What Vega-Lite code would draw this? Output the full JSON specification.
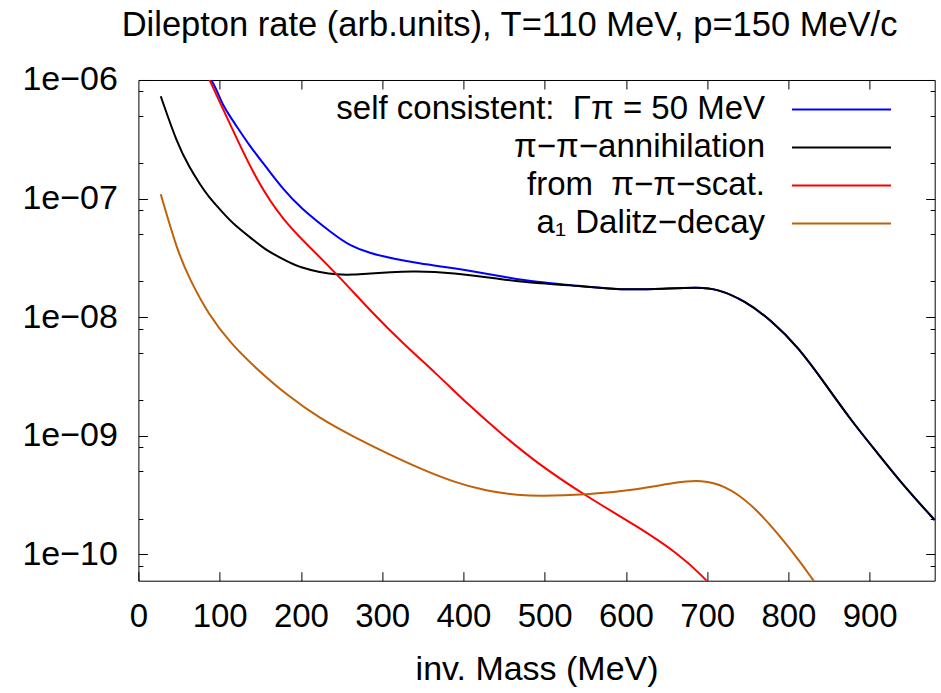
{
  "$schema": "https://vega.github.io/schema/vega-lite/v6.json",
  "width": 796.3,
  "height": 500.7,
  "autosize": {"type": "none"},
  "padding": {"left": 138.4, "top": 80, "right": 6.3, "bottom": 112},
  "background": "white",
  "config": {
    "font": "Liberation Sans",
    "view": {"stroke": "#000", "strokeWidth": 1},
    "axis": {"grid": false, "domain": false, "tickColor": "#000", "labelColor": "#000", "titleColor": "#000", "tickWidth": 1}
  },
  "title": {
    "text": "Dilepton rate (arb.units), T=110 MeV, p=150 MeV/c",
    "fontSize": 34.5,
    "fontWeight": "normal",
    "color": "#000",
    "anchor": "middle",
    "frame": "group",
    "dx": -27,
    "baseline": "alphabetic",
    "offset": -8
  },
  "data": {
    "values": [
      {"s": "self consistent:\u00a0 Γπ = 50 MeV", "m": 80, "r": 1.2e-6},
      {"s": "self consistent:\u00a0 Γπ = 50 MeV", "m": 92.2, "r": 9.8e-7},
      {"s": "self consistent:\u00a0 Γπ = 50 MeV", "m": 104, "r": 6.0e-7},
      {"s": "self consistent:\u00a0 Γπ = 50 MeV", "m": 116.8, "r": 4.5e-7},
      {"s": "self consistent:\u00a0 Γπ = 50 MeV", "m": 137, "r": 2.77e-7},
      {"s": "self consistent:\u00a0 Γπ = 50 MeV", "m": 157.9, "r": 1.82e-7},
      {"s": "self consistent:\u00a0 Γπ = 50 MeV", "m": 178, "r": 1.2e-7},
      {"s": "self consistent:\u00a0 Γπ = 50 MeV", "m": 198.9, "r": 8.4e-8},
      {"s": "self consistent:\u00a0 Γπ = 50 MeV", "m": 239.9, "r": 5.0e-8},
      {"s": "self consistent:\u00a0 Γπ = 50 MeV", "m": 260.4, "r": 4.0e-8},
      {"s": "self consistent:\u00a0 Γπ = 50 MeV", "m": 285, "r": 3.45e-8},
      {"s": "self consistent:\u00a0 Γπ = 50 MeV", "m": 315, "r": 3.1e-8},
      {"s": "self consistent:\u00a0 Γπ = 50 MeV", "m": 346, "r": 2.84e-8},
      {"s": "self consistent:\u00a0 Γπ = 50 MeV", "m": 377, "r": 2.65e-8},
      {"s": "self consistent:\u00a0 Γπ = 50 MeV", "m": 407, "r": 2.47e-8},
      {"s": "self consistent:\u00a0 Γπ = 50 MeV", "m": 448, "r": 2.2e-8},
      {"s": "self consistent:\u00a0 Γπ = 50 MeV", "m": 489, "r": 1.97e-8},
      {"s": "self consistent:\u00a0 Γπ = 50 MeV", "m": 541, "r": 1.85e-8},
      {"s": "self consistent:\u00a0 Γπ = 50 MeV", "m": 594, "r": 1.69e-8},
      {"s": "self consistent:\u00a0 Γπ = 50 MeV", "m": 648, "r": 1.74e-8},
      {"s": "self consistent:\u00a0 Γπ = 50 MeV", "m": 689, "r": 1.79e-8},
      {"s": "self consistent:\u00a0 Γπ = 50 MeV", "m": 713, "r": 1.73e-8},
      {"s": "self consistent:\u00a0 Γπ = 50 MeV", "m": 746, "r": 1.38e-8},
      {"s": "self consistent:\u00a0 Γπ = 50 MeV", "m": 779, "r": 9.4e-9},
      {"s": "self consistent:\u00a0 Γπ = 50 MeV", "m": 812, "r": 5.6e-9},
      {"s": "self consistent:\u00a0 Γπ = 50 MeV", "m": 845, "r": 2.75e-9},
      {"s": "self consistent:\u00a0 Γπ = 50 MeV", "m": 877, "r": 1.35e-9},
      {"s": "self consistent:\u00a0 Γπ = 50 MeV", "m": 910, "r": 7.1e-10},
      {"s": "self consistent:\u00a0 Γπ = 50 MeV", "m": 943, "r": 3.7e-10},
      {"s": "self consistent:\u00a0 Γπ = 50 MeV", "m": 980, "r": 1.95e-10},

      {"s": "π−π−annihilation", "m": 27.5, "r": 7.3e-7},
      {"s": "π−π−annihilation", "m": 48, "r": 2.87e-7},
      {"s": "π−π−annihilation", "m": 63, "r": 1.82e-7},
      {"s": "π−π−annihilation", "m": 75.8, "r": 1.32e-7},
      {"s": "π−π−annihilation", "m": 85.6, "r": 1.05e-7},
      {"s": "π−π−annihilation", "m": 104, "r": 7.6e-8},
      {"s": "π−π−annihilation", "m": 116.8, "r": 6.1e-8},
      {"s": "π−π−annihilation", "m": 143, "r": 4.4e-8},
      {"s": "π−π−annihilation", "m": 157.9, "r": 3.63e-8},
      {"s": "π−π−annihilation", "m": 184, "r": 2.94e-8},
      {"s": "π−π−annihilation", "m": 198.9, "r": 2.63e-8},
      {"s": "π−π−annihilation", "m": 224, "r": 2.39e-8},
      {"s": "π−π−annihilation", "m": 244, "r": 2.28e-8},
      {"s": "π−π−annihilation", "m": 265, "r": 2.28e-8},
      {"s": "π−π−annihilation", "m": 285, "r": 2.34e-8},
      {"s": "π−π−annihilation", "m": 310, "r": 2.4e-8},
      {"s": "π−π−annihilation", "m": 338, "r": 2.45e-8},
      {"s": "π−π−annihilation", "m": 387, "r": 2.37e-8},
      {"s": "π−π−annihilation", "m": 448, "r": 2.08e-8},
      {"s": "π−π−annihilation", "m": 489, "r": 1.93e-8},
      {"s": "π−π−annihilation", "m": 541, "r": 1.85e-8},
      {"s": "π−π−annihilation", "m": 594, "r": 1.69e-8},
      {"s": "π−π−annihilation", "m": 648, "r": 1.74e-8},
      {"s": "π−π−annihilation", "m": 689, "r": 1.79e-8},
      {"s": "π−π−annihilation", "m": 713, "r": 1.73e-8},
      {"s": "π−π−annihilation", "m": 746, "r": 1.38e-8},
      {"s": "π−π−annihilation", "m": 779, "r": 9.4e-9},
      {"s": "π−π−annihilation", "m": 812, "r": 5.6e-9},
      {"s": "π−π−annihilation", "m": 845, "r": 2.75e-9},
      {"s": "π−π−annihilation", "m": 877, "r": 1.35e-9},
      {"s": "π−π−annihilation", "m": 910, "r": 7.1e-10},
      {"s": "π−π−annihilation", "m": 943, "r": 3.7e-10},
      {"s": "π−π−annihilation", "m": 980, "r": 1.95e-10},

      {"s": "from\u00a0 π−π−scat.", "m": 80, "r": 1.3e-6},
      {"s": "from\u00a0 π−π−scat.", "m": 88.1, "r": 9.8e-7},
      {"s": "from\u00a0 π−π−scat.", "m": 102, "r": 6.1e-7},
      {"s": "from\u00a0 π−π−scat.", "m": 116.8, "r": 3.71e-7},
      {"s": "from\u00a0 π−π−scat.", "m": 145.6, "r": 1.41e-7},
      {"s": "from\u00a0 π−π−scat.", "m": 178.4, "r": 6.5e-8},
      {"s": "from\u00a0 π−π−scat.", "m": 211.2, "r": 3.87e-8},
      {"s": "from\u00a0 π−π−scat.", "m": 248, "r": 2.17e-8},
      {"s": "from\u00a0 π−π−scat.", "m": 285, "r": 1.14e-8},
      {"s": "from\u00a0 π−π−scat.", "m": 326, "r": 5.96e-9},
      {"s": "from\u00a0 π−π−scat.", "m": 367, "r": 3.33e-9},
      {"s": "from\u00a0 π−π−scat.", "m": 407, "r": 1.8e-9},
      {"s": "from\u00a0 π−π−scat.", "m": 448, "r": 1.02e-9},
      {"s": "from\u00a0 π−π−scat.", "m": 489, "r": 6.0e-10},
      {"s": "from\u00a0 π−π−scat.", "m": 549, "r": 3.15e-10},
      {"s": "from\u00a0 π−π−scat.", "m": 615, "r": 1.71e-10},
      {"s": "from\u00a0 π−π−scat.", "m": 664, "r": 1.02e-10},
      {"s": "from\u00a0 π−π−scat.", "m": 697, "r": 6.3e-11},
      {"s": "from\u00a0 π−π−scat.", "m": 705, "r": 5.4e-11},

      {"s": "a₁ Dalitz−decay", "m": 27.5, "r": 1.09e-7},
      {"s": "a₁ Dalitz−decay", "m": 48, "r": 3.6e-8},
      {"s": "a₁ Dalitz−decay", "m": 63, "r": 2.1e-8},
      {"s": "a₁ Dalitz−decay", "m": 85.6, "r": 1.07e-8},
      {"s": "a₁ Dalitz−decay", "m": 114, "r": 5.96e-9},
      {"s": "a₁ Dalitz−decay", "m": 143, "r": 3.8e-9},
      {"s": "a₁ Dalitz−decay", "m": 183, "r": 2.19e-9},
      {"s": "a₁ Dalitz−decay", "m": 224, "r": 1.39e-9},
      {"s": "a₁ Dalitz−decay", "m": 265, "r": 9.8e-10},
      {"s": "a₁ Dalitz−decay", "m": 306, "r": 7.1e-10},
      {"s": "a₁ Dalitz−decay", "m": 346, "r": 5.3e-10},
      {"s": "a₁ Dalitz−decay", "m": 387, "r": 4.09e-10},
      {"s": "a₁ Dalitz−decay", "m": 428, "r": 3.41e-10},
      {"s": "a₁ Dalitz−decay", "m": 469, "r": 3.16e-10},
      {"s": "a₁ Dalitz−decay", "m": 492, "r": 3.1e-10},
      {"s": "a₁ Dalitz−decay", "m": 549, "r": 3.16e-10},
      {"s": "a₁ Dalitz−decay", "m": 615, "r": 3.52e-10},
      {"s": "a₁ Dalitz−decay", "m": 664, "r": 4.09e-10},
      {"s": "a₁ Dalitz−decay", "m": 693, "r": 4.23e-10},
      {"s": "a₁ Dalitz−decay", "m": 721, "r": 3.84e-10},
      {"s": "a₁ Dalitz−decay", "m": 754, "r": 2.69e-10},
      {"s": "a₁ Dalitz−decay", "m": 787, "r": 1.5e-10},
      {"s": "a₁ Dalitz−decay", "m": 816, "r": 8.4e-11},
      {"s": "a₁ Dalitz−decay", "m": 830, "r": 6.1e-11},
      {"s": "a₁ Dalitz−decay", "m": 836, "r": 5.4e-11}
    ]
  },
  "resolve": {"axis": {"x": "independent", "y": "independent"}},
  "layer": [
    {
      "mark": {"type": "line", "interpolate": "basis", "strokeWidth": 2, "clip": true},
      "encoding": {
        "x": {
          "field": "m", "type": "quantitative",
          "scale": {"domain": [0, 980], "nice": false, "zero": false},
          "axis": {
            "orient": "bottom",
            "values": [0, 100, 200, 300, 400, 500, 600, 700, 800, 900],
            "tickSize": -9,
            "labelPadding": 29,
            "labelFontSize": 33,
            "labelFlush": false,
            "title": "inv. Mass (MeV)",
            "titleFontSize": 34,
            "titleFontWeight": "normal",
            "titleBaseline": "alphabetic",
            "titlePadding": 46
          }
        },
        "y": {
          "field": "r", "type": "quantitative",
          "scale": {"type": "log", "domain": [6.0e-11, 1e-6], "nice": false},
          "axis": {
            "orient": "left",
            "values": [8e-11, 1e-10, 2e-10, 5e-10, 8e-10, 1e-9, 2e-9, 5e-9, 8e-9, 1e-8, 2e-8, 5e-8, 8e-8, 1e-7, 2e-7, 5e-7, 8e-7, 1e-6],
            "labelExpr": "abs(log(datum.value)/LN10 - round(log(datum.value)/LN10)) > 0.01 ? '' : '1e−' + (round(-log(datum.value)/LN10) < 10 ? '0' : '') + round(-log(datum.value)/LN10)",
            "tickSize": {"condition": {"test": "abs(log(datum.value)/LN10 - round(log(datum.value)/LN10)) > 0.01", "value": -4.5}, "value": -9},
            "labelPadding": 30,
            "labelFontSize": 34,
            "labelFlush": false,
            "labelOverlap": false,
            "title": null
          }
        },
        "color": {
          "field": "s", "type": "nominal",
          "scale": {
            "domain": ["self consistent:\u00a0 Γπ = 50 MeV", "π−π−annihilation", "from\u00a0 π−π−scat.", "a₁ Dalitz−decay"],
            "range": ["#0000ff", "#000000", "#ff0000", "#c06008"]
          },
          "legend": {
            "orient": "none",
            "legendX": 686.6,
            "legendY": 13,
            "title": null,
            "padding": 0,
            "symbolType": "M-5,0H5",
            "symbolSize": 392,
            "symbolStrokeWidth": 2,
            "labelAlign": "right",
            "labelOffset": -93,
            "labelFontSize": 33,
            "labelColor": "#000",
            "labelLimit": 0,
            "rowPadding": 4
          }
        }
      }
    },
    {
      "mark": {"type": "point", "opacity": 0},
      "encoding": {
        "x": {
          "field": "m", "type": "quantitative",
          "axis": {
            "orient": "top",
            "values": [100, 200, 300, 400, 500, 600, 700, 800, 900],
            "tickSize": -9,
            "labels": false,
            "title": null
          }
        },
        "y": {
          "field": "r", "type": "quantitative",
          "axis": {
            "orient": "right",
            "values": [8e-11, 1e-10, 2e-10, 5e-10, 8e-10, 1e-9, 2e-9, 5e-9, 8e-9, 1e-8, 2e-8, 5e-8, 8e-8, 1e-7, 2e-7, 5e-7, 8e-7, 1e-6],
            "tickSize": {"condition": {"test": "abs(log(datum.value)/LN10 - round(log(datum.value)/LN10)) > 0.01", "value": -4.5}, "value": -9},
            "labels": false,
            "title": null
          }
        }
      }
    }
  ]
}
